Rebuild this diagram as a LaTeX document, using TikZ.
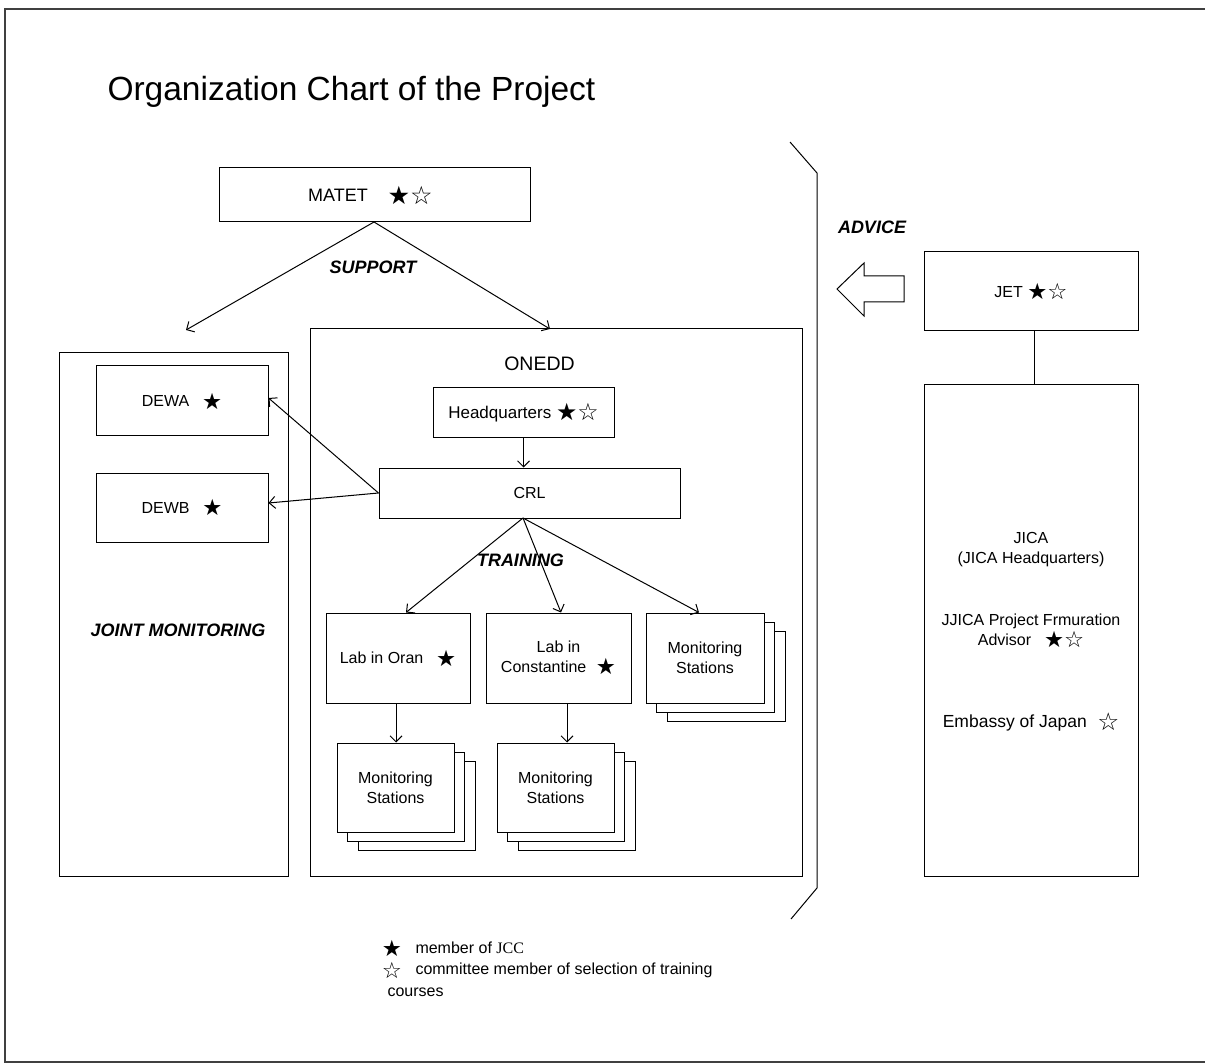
\documentclass[tikz,border=0pt]{standalone}
\usepackage{fontspec}
\setmainfont{Liberation Sans}
\newfontfamily\symf{DejaVu Sans}
\newfontfamily\serf{Liberation Serif}
\usetikzlibrary{arrows.meta,calc}
\newcommand\blkstar{\raisebox{-0.25ex}{\scalebox{1.4}{\symf ★}}}
\newcommand\whtstar{\raisebox{-0.25ex}{\scalebox{1.4}{\symf ☆}}}
\begin{document}
\begin{tikzpicture}[x=1pt,y=-1pt,
  line width=1pt,
  >={Straight Barb[length=6pt,width=12pt]},
  frame/.style={draw=black!75,line width=1.5pt},
  box/.style={draw,fill=white,inner sep=0pt,align=center,
    font=\fontsize{16}{20}\selectfont},
  group/.style={draw,inner sep=0pt},
  label/.style={font=\fontsize{18}{20}\selectfont\bfseries\itshape,inner sep=0pt},
  txt/.style={font=\fontsize{16}{20}\selectfont,inner sep=0pt,align=center},
  conn/.style={->}]
\useasboundingbox (0,0) rectangle (1205,1064);

% page frame
\draw[frame] (1210,9) -- (5,9) -- (5,1062) -- (1210,1062);

% title
\node[anchor=base west,inner sep=0pt,font=\fontsize{33.5}{38}\selectfont] (title) at (107,101) {Organization Chart of the Project};

% MATET
\node[box,minimum width=311pt,minimum height=54pt,font=\fontsize{18}{22}\selectfont] (matet) at (374.5,195) {\hspace*{-8pt}MATET\hspace{1.1em}\blkstar\whtstar};
\node[label] (support) at (373,267) {SUPPORT};

% joint monitoring group
\node[group,minimum width=229pt,minimum height=523pt] (jm) at (173.5,614.5) {};
\node[box,minimum width=172pt,minimum height=70pt] (dewa) at (182,401) {DEWA\hspace{0.8em}\blkstar};
\node[box,minimum width=172pt,minimum height=69pt] (dewb) at (182,507.5) {DEWB\hspace{0.8em}\blkstar};
\node[label] (jmlabel) at (178,630) {JOINT MONITORING};

% ONEDD group
\node[group,minimum width=492pt,minimum height=547pt] (onedd) at (556,602.5) {};
\node[inner sep=0pt,font=\fontsize{19.5}{22}\selectfont] (oneddlabel) at (539.5,363.5) {ONEDD};
\node[box,minimum width=181pt,minimum height=50pt,font=\fontsize{17}{20}\selectfont] (hq) at (523.5,413) {Headquarters \blkstar\whtstar};
\node[box,minimum width=301pt,minimum height=50pt] (crl) at (529.5,493) {CRL};
\node[label] (training) at (520.5,560) {TRAINING};

\node[box,minimum width=144pt,minimum height=90pt] (oran) at (398,658) {Lab in Oran\hspace{0.8em}\blkstar};
\node[box,minimum width=145pt,minimum height=90pt] (const) at (558.5,658) {Lab in\\Constantine\hspace{0.6em}\blkstar};

% stacked monitoring stations
\node[box,minimum width=118pt,minimum height=90pt] (msr3) at (726,676) {};
\node[box,minimum width=118pt,minimum height=90pt] (msr2) at (715.5,667) {};
\node[box,minimum width=118pt,minimum height=90pt] (msr) at (705,658) {Monitoring\\Stations};

\node[box,minimum width=117pt,minimum height=89pt] (mso3) at (416.5,805.5) {};
\node[box,minimum width=117pt,minimum height=89pt] (mso2) at (406,796.5) {};
\node[box,minimum width=117pt,minimum height=89pt] (mso) at (395.5,787.5) {Monitoring\\Stations};

\node[box,minimum width=117pt,minimum height=89pt] (msc3) at (576.5,805.5) {};
\node[box,minimum width=117pt,minimum height=89pt] (msc2) at (566,796.5) {};
\node[box,minimum width=117pt,minimum height=89pt] (msc) at (555.5,787.5) {Monitoring\\Stations};

% bracket separating the Japanese side
\draw (790,142) -- (817,173) -- (817,888) -- (791,919);

% advice arrow
\node[label] (advice) at (872,227) {ADVICE};
\draw (837,289) -- (864,263) -- (864,276) -- (904,276) -- (904,302) -- (864,302) -- (864,316) -- cycle;

% Japanese side
\node[box,minimum width=214pt,minimum height=79pt] (jet) at (1031,291.5) {JET \blkstar\whtstar};
\node[group,minimum width=214pt,minimum height=491pt] (jica) at (1031,630.5) {};
\node[txt] (jicat) at (1031,549.5) {JICA\\(JICA Headquarters)};
\node[txt] (jjica) at (1031,631) {JJICA Project Frmuration\\Advisor\hspace{0.8em}\blkstar\whtstar};
\node[txt,font=\fontsize{17.5}{20}\selectfont] (emb) at (1031,722) {Embassy of Japan\hspace{0.6em}\whtstar};
\draw (jet.south -| 1034,0) -- (jica.north -| 1034,0);

% connectors
\coordinate (matetb) at (374,222);
\coordinate (jmtop) at (186,330);
\coordinate (oneddtop) at (550,329);
\draw[conn] (matetb) -- (jmtop);
\draw[conn] (matetb) -- (oneddtop);
\draw[conn] (hq.south) -- (hq.south |- crl.north);
\draw[conn] (crl.west) -- ([yshift=3pt]dewa.east);
\draw[conn] (crl.west) -- ([yshift=4.5pt]dewb.east);
\coordinate (crlb) at (523,518);
\draw[conn] (crlb) -- (oran.north -| 406,0);
\draw[conn] (crlb) -- (const.north -| 561,0);
\draw[conn] (crlb) -- (msr.north -| 699,0);
\draw[conn] (oran.south -| 396,0) -- (mso.north -| 396,0);
\draw[conn] (const.south -| 567,0) -- (msc.north -| 567,0);

% legend
\node[txt] (leg1s) at (392,948) {\blkstar};
\node[txt,anchor=west] (leg1) at (415,948) {member of {\serf JCC}};
\node[txt] (leg2s) at (392,970) {\whtstar};
\node[txt,anchor=west] (leg2) at (415,970) {committee member of selection of training};
\node[txt,anchor=west] (leg3) at (387,992) {courses};
\end{tikzpicture}
\end{document}
